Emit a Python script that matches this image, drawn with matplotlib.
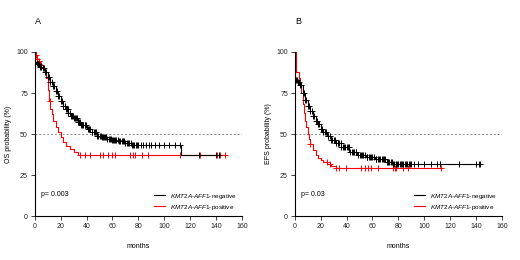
import numpy as np
import matplotlib
matplotlib.use("Agg")
import matplotlib.pyplot as plt

plt.rcParams['font.family'] = ['Liberation Sans', 'DejaVu Sans']
plt.rcParams['mathtext.fontset'] = 'custom'
plt.rcParams['mathtext.rm'] = 'Liberation Sans'
plt.rcParams['mathtext.it'] = 'Liberation Sans:italic'

# ---- data (months, survival %) ----
# panel A, OS
os_neg_t = [0, 1, 2, 4, 6, 8, 10, 12, 14, 16, 18, 20, 22, 24, 26, 28, 30, 33, 36, 40,
            44, 48, 52, 56, 60, 65, 70, 75, 113, 142]
os_neg_s = [94, 93, 92.5, 91, 90, 88, 85, 82, 79, 76, 73, 70, 67, 65, 63, 61, 59.5, 57.5, 55.5, 53,
            51, 49, 48, 47, 46.5, 45.5, 44.5, 43.3, 37, 37]
os_neg_cens = [0.5, 1.5, 2.5, 3, 4, 5, 6, 7, 8, 9, 10, 11, 12, 13, 14, 15, 16, 17, 18, 19,
               20, 21, 22, 23, 24, 24.5, 25.5, 26, 27, 28, 29, 29.5, 30.5, 31, 31.5, 32.5,
               33, 34, 35, 36, 36.5, 37.5, 38.5, 39, 39.5, 41, 42, 43, 44, 44.5, 45.5, 46.5,
               47.5, 48, 49, 50, 51, 52, 52.5, 53.5, 54, 55, 56, 57, 58, 59, 60, 60.5, 61.5,
               62, 63, 64, 65, 66, 67, 68, 69, 70, 71, 72, 73, 74, 75, 76, 77, 78, 79, 80,
               82, 84, 86, 88, 90, 93, 96, 100, 104, 108, 112, 127, 140, 142]
os_pos_t = [0, 1, 2, 3, 4, 5, 6, 7, 8, 9, 10, 11, 12, 13, 14, 16, 18, 20, 22, 24, 27, 30, 33, 147]
os_pos_s = [100, 98, 96, 94.5, 93, 92, 91, 90, 88, 84, 77, 70, 65, 62, 58, 54, 51, 48, 45, 43,
            41, 39, 37, 37]
os_pos_cens = [1, 2, 3.5, 5, 11.5, 35, 38.6, 42.5, 50, 52.7, 56.5, 59.5, 61.8, 73.4, 75.7,
               77.3, 82.6, 87.2, 112, 127.5, 140.5, 142.8, 146.8]

# panel B, EFS
efs_neg_t = [0, 0.4, 2, 4, 6, 8, 10, 12, 14, 16, 18, 20, 22, 25, 28, 32, 36, 42, 48, 55,
             62, 71, 76, 143]
efs_neg_s = [100, 83, 82, 80, 75, 70.5, 67, 64, 61, 58, 56, 53, 51.4, 48.5, 46.5, 44.3, 42,
             39, 37.5, 36, 34.5, 33, 32, 32]
efs_neg_cens = [1, 1.5, 2.5, 3, 4, 5, 6, 7, 8, 9, 10, 11, 12, 13, 14, 15, 16, 17, 18, 19,
                20, 21, 22, 23, 24, 25.5, 26, 27, 28, 29, 30, 31, 32, 33, 33.5, 34.5, 35.5,
                36, 37, 38, 39, 40, 41, 41.5, 43, 44, 45, 46, 47, 47.5, 49, 50, 51, 52, 53,
                54, 55.5, 56, 57, 58, 59, 60, 61, 62.5, 63, 64, 65, 66, 67.5, 68, 69, 70, 71,
                72, 73, 74, 75, 76, 77, 78, 79, 80, 81, 82, 83, 84, 85, 86, 87, 88, 89, 90,
                92, 95, 100, 105, 110, 112, 127, 140, 142, 143]
efs_pos_t = [0, 0.7, 3.3, 4, 5, 6, 7, 8, 9, 10, 11, 12, 14, 16, 18, 20, 22, 25, 28, 32, 113]
efs_pos_s = [100, 88, 84, 80, 75, 68, 63, 58, 54, 50, 47, 44, 40, 37.5, 35.5, 34, 33, 32, 30.5,
             29, 29]
efs_pos_cens = [12, 24.5, 27, 32, 34, 39.7, 51.3, 53.9, 56.4, 59, 64, 75.8, 77.1, 78.4,
                83.5, 87.3, 113]

p_values = ['p= 0.003', 'p= 0.03']
ylabels = ['OS probability (%)', 'EFS probability (%)']
panel_letters = ['A', 'B']
legend_labels = [r'$\mathit{KMT2A}$-$\mathit{AFF1}$-negative',
                 r'$\mathit{KMT2A}$-$\mathit{AFF1}$-positive']


def step_value(t, s, x):
    # survival value of the step function at time x
    i = np.searchsorted(np.asarray(t), x, side='right') - 1
    return np.asarray(s)[i]


def km_plot(ax, t, s, cens, color, label, ms):
    ax.step(t, s, where='post', color=color, lw=0.8, label=label)
    ax.plot(cens, [step_value(t, s, c) for c in cens], ls='none', marker='+',
            ms=ms, mew=0.7, color=color)


fig = plt.figure(figsize=(5.2, 2.6), dpi=100)
ax_a = fig.add_axes([0.067, 0.169, 0.398, 0.631])
ax_b = fig.add_axes([0.567, 0.169, 0.398, 0.631])

curves = [
    (os_neg_t, os_neg_s, os_neg_cens, os_pos_t, os_pos_s, os_pos_cens),
    (efs_neg_t, efs_neg_s, efs_neg_cens, efs_pos_t, efs_pos_s, efs_pos_cens),
]

for k, ax in enumerate([ax_a, ax_b]):
    nt, ns, nc, pt, ps, pc = curves[k]
    ax.axhline(50, color='#888888', lw=0.7, ls=(0, (2, 2)))
    km_plot(ax, pt, ps, pc, '#ff0000', legend_labels[1], 3.8)
    km_plot(ax, nt, ns, nc, 'black', legend_labels[0], 4.2)

    ax.set_xlim(0, 160)
    ax.set_ylim(0, 100)
    ax.set_xticks(np.arange(0, 161, 20))
    ax.set_yticks([0, 25, 50, 75, 100])
    for side in ['top', 'right']:
        ax.spines[side].set_visible(False)
    for side in ['left', 'bottom']:
        ax.spines[side].set_linewidth(0.8)
    ax.tick_params(labelsize=5, length=3, width=0.6, pad=2, colors='#222222')
    ax.set_xlabel('months', fontsize=5, labelpad=9)
    ax.set_ylabel(ylabels[k], fontsize=5, labelpad=3)

    ax.text(5, 13, p_values[k], fontsize=5, ha='left', va='center')
    h, l = ax.get_legend_handles_labels()
    ax.legend(h[::-1], l[::-1], loc='lower right', bbox_to_anchor=(1.0, 0.0), frameon=False,
              fontsize=4.6, handlelength=1.8, handletextpad=0.8, labelspacing=0.3,
              borderaxespad=0.3)

    fig.text(ax.get_position().x0, 1 - 22 / 260, panel_letters[k], fontsize=6.5,
             ha='left', va='center')

fig.savefig('out.png', dpi=100)
